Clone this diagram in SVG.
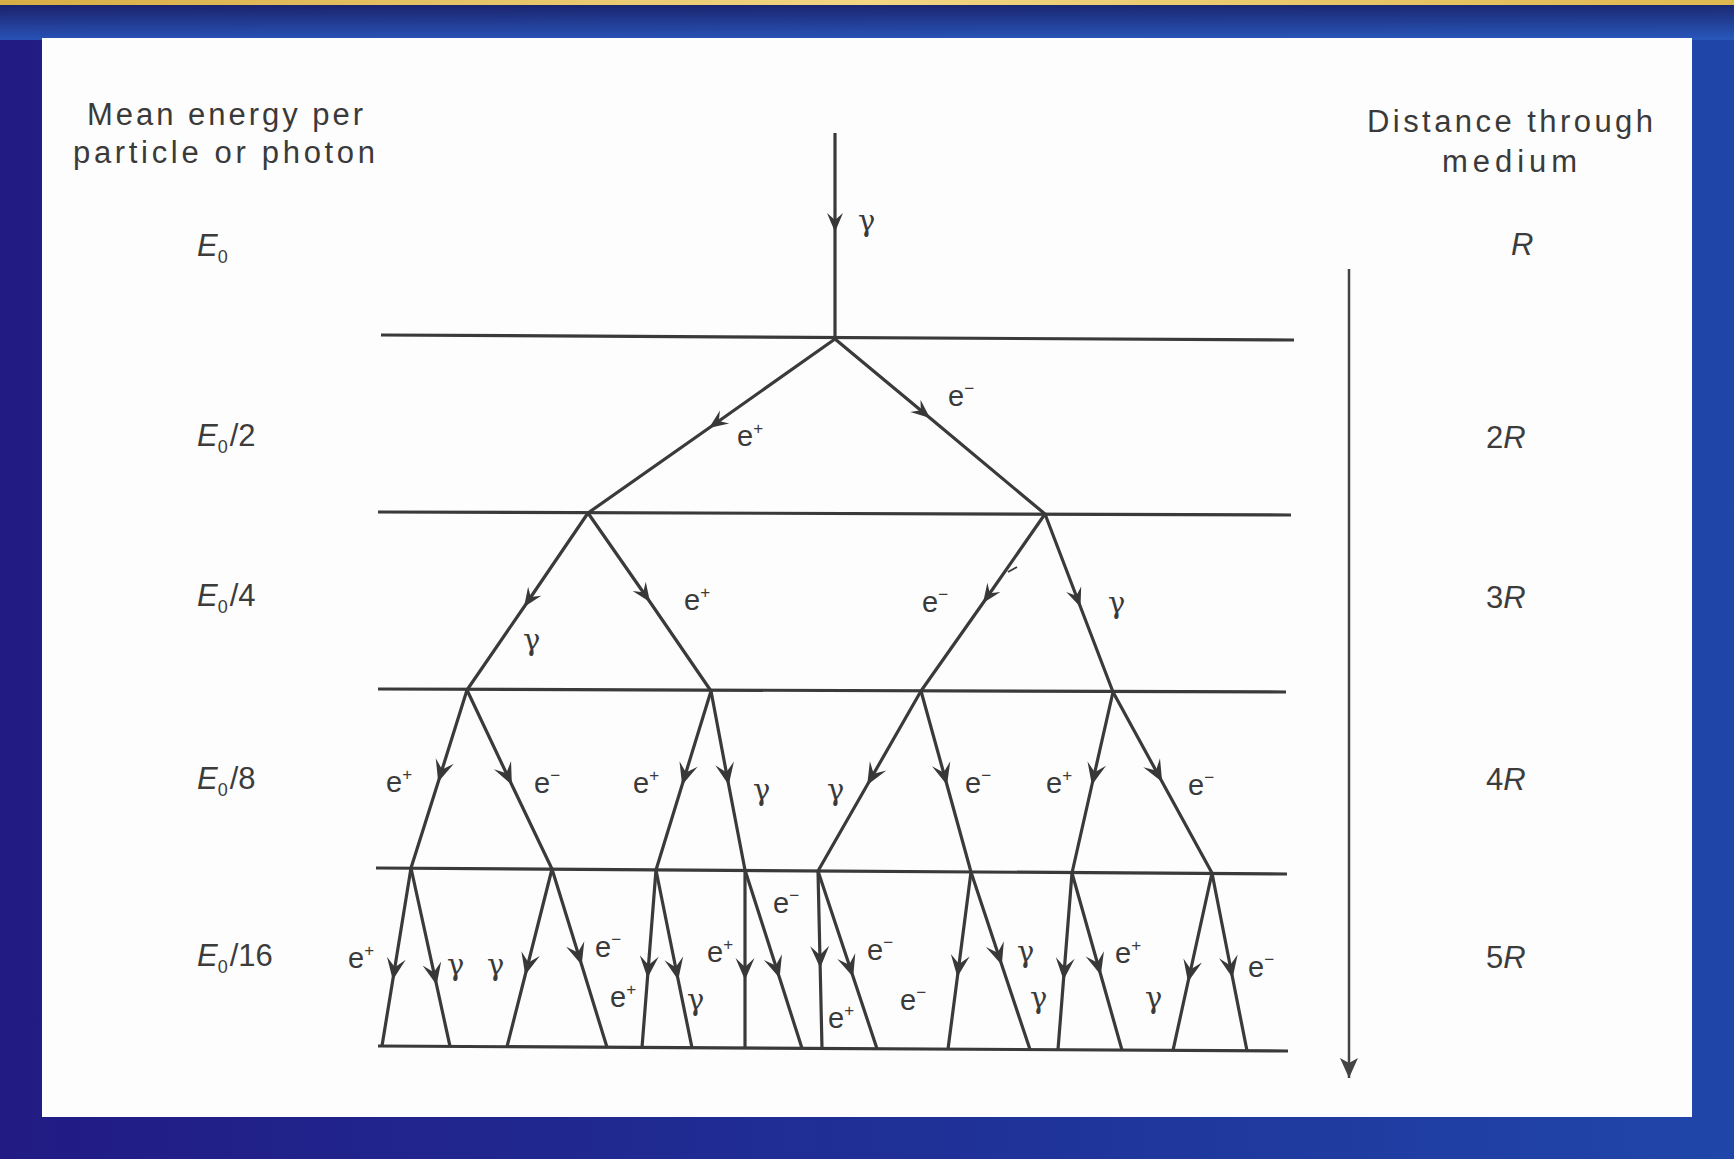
<svg xmlns="http://www.w3.org/2000/svg" width="1734" height="1159" viewBox="0 0 1734 1159">
<defs>
<linearGradient id="bg" x1="0" y1="0" x2="1" y2="0">
<stop offset="0" stop-color="#221b84"/>
<stop offset="0.5" stop-color="#1f2f96"/>
<stop offset="1" stop-color="#2046aa"/>
</linearGradient>
<linearGradient id="topband" x1="0" y1="0" x2="0" y2="1">
<stop offset="0" stop-color="#1a2266"/>
<stop offset="1" stop-color="#2a5cc0"/>
</linearGradient>
<linearGradient id="gold" x1="0" y1="0" x2="1" y2="0">
<stop offset="0" stop-color="#d7ad45"/>
<stop offset="0.5" stop-color="#f2d684"/>
<stop offset="1" stop-color="#e0b850"/>
</linearGradient>
<marker id="ah" viewBox="-22 -10 24 20" refX="0" refY="0" markerWidth="24" markerHeight="20" markerUnits="userSpaceOnUse" orient="auto">
<path d="M0,0 L-19,-8 L-12,0 L-19,8 Z" fill="#383838"/>
</marker>
<marker id="ahL" viewBox="-24 -12 26 24" refX="0" refY="0" markerWidth="26" markerHeight="24" markerUnits="userSpaceOnUse" orient="auto">
<path d="M0,0 L-22,-9.5 L-13,0 L-22,9.5 Z" fill="#383838"/>
</marker>
<marker id="axis" viewBox="-26 -10 28 20" refX="0" refY="0" markerWidth="28" markerHeight="20" markerUnits="userSpaceOnUse" orient="auto">
<path d="M0,0 L-20,-9 L-15,0 L-20,9 Z" fill="#444"/>
</marker>
<style>
.hd{font-family:"Liberation Sans",Arial,sans-serif;font-size:31px;fill:#3a3a3a}
.ax{font-family:"Liberation Sans",Arial,sans-serif;font-size:31px;fill:#3c3c3c}
.it{font-style:italic}
.sub{font-size:18px}
.e{font-family:"Liberation Sans",Arial,sans-serif;font-size:29px;fill:#3a3a3a}
.sup{font-size:17px}
.g{font-family:"DejaVu Serif","Liberation Serif",serif;font-size:29px;fill:#3a3a3a}
.hl{stroke:#3a3a3a;stroke-width:3.2;fill:none}
.cn{stroke:#3a3a3a;stroke-width:3.2;fill:none;stroke-linejoin:round}
.up{marker-mid:url(#ah)}
.lo{marker-mid:url(#ahL)}
</style>
</defs>

<g id="background">
<rect x="0" y="0" width="1734" height="1159" fill="url(#bg)"/>
<rect x="0" y="4" width="1734" height="36" fill="url(#topband)" opacity="0.85"/>
<rect x="0" y="0" width="1734" height="5" fill="url(#gold)"/>
<rect x="42" y="38" width="1650" height="1079" fill="#fdfdfd"/>
</g>

<g id="levels">
<line class="hl" x1="381" y1="335" x2="1294" y2="340"/>
<line class="hl" x1="378" y1="512" x2="1291" y2="515"/>
<line class="hl" x1="378" y1="689" x2="1286" y2="692"/>
<line class="hl" x1="376" y1="868" x2="1287" y2="874"/>
<line class="hl" x1="378" y1="1046" x2="1288" y2="1051"/>
</g>

<g id="connectors">
<path class="cn up" d="M835,133 L835,232 L835,339"/>
<path class="cn up" d="M835,339 L709,428 L588,513"/>
<path class="cn up" d="M835,339 L930,418 L1045,514"/>
<path class="cn up" d="M588,513 L524,607 L467,690"/>
<path class="cn up" d="M588,513 L650,602 L711,691"/>
<path class="cn up" d="M1045,514 L983,603 L921,691"/>
<path class="cn up" d="M1045,514 L1080.5,607 L1113,692"/>
<path class="cn lo" d="M467,690 L438.2,782 L411,868"/>
<path class="cn lo" d="M467,690 L511.9,785 L552,869"/>
<path class="cn lo" d="M711,691 L682.1,785 L656,870"/>
<path class="cn lo" d="M711,691 L728.7,785 L745,870"/>
<path class="cn lo" d="M921,691 L867.2,785 L818,871"/>
<path class="cn lo" d="M921,691 L947,785 L971,872"/>
<path class="cn lo" d="M1113,692 L1091.9,785 L1072,873"/>
<path class="cn lo" d="M1113,692 L1162.2,782 L1212,873"/>
<path class="cn lo" d="M411,868 L392.8,980 L382,1046"/>
<path class="cn lo" d="M411,868 L436.6,985 L450,1046.4"/>
<path class="cn lo" d="M552,869 L525.2,975 L507,1046.7"/>
<path class="cn lo" d="M552,869 L581.7,965 L607,1047.3"/>
<path class="cn lo" d="M656,870 L647.5,978 L642,1047.5"/>
<path class="cn lo" d="M656,870 L678.2,980 L692,1047.7"/>
<path class="cn lo" d="M745,870 L745,980 L745,1048"/>
<path class="cn lo" d="M745,870 L779.6,978 L802,1048.3"/>
<path class="cn lo" d="M818,871 L820.2,968 L822,1048.4"/>
<path class="cn lo" d="M818,871 L853.2,977 L877,1048.7"/>
<path class="cn lo" d="M971,872 L957.4,977 L948,1049.1"/>
<path class="cn lo" d="M971,872 L1001.8,965 L1030,1049.6"/>
<path class="cn lo" d="M1072,873 L1063.5,980 L1058,1049.7"/>
<path class="cn lo" d="M1072,873 L1100.8,975 L1122,1050.1"/>
<path class="cn lo" d="M1212,873 L1188,982 L1173,1050.4"/>
<path class="cn lo" d="M1212,873 L1232.6,978 L1247,1050.8"/>
<line x1="1008" y1="572" x2="1017" y2="567" stroke="#3a3a3a" stroke-width="2"/>
<path d="M1349,269 L1349,1078" stroke="#444" stroke-width="2.5" fill="none" marker-end="url(#axis)"/>
</g>

<g id="header-left">
<text class="hd" x="87" y="125" textLength="276" lengthAdjust="spacing">Mean energy per</text>
<text class="hd" x="73" y="163" textLength="302" lengthAdjust="spacing">particle or photon</text>
</g>
<g id="header-right">
<text class="hd" x="1367" y="132" textLength="286" lengthAdjust="spacing">Distance through</text>
<text class="hd" x="1442" y="172" textLength="135" lengthAdjust="spacing">medium</text>
</g>

<g id="energy-labels">
<text class="ax" x="197" y="256"><tspan class="it">E</tspan><tspan class="sub" dy="7">0</tspan></text>
<text class="ax" x="197" y="446"><tspan class="it">E</tspan><tspan class="sub" dy="7">0</tspan><tspan dy="-7" dx="2">/2</tspan></text>
<text class="ax" x="197" y="606"><tspan class="it">E</tspan><tspan class="sub" dy="7">0</tspan><tspan dy="-7" dx="2">/4</tspan></text>
<text class="ax" x="197" y="789"><tspan class="it">E</tspan><tspan class="sub" dy="7">0</tspan><tspan dy="-7" dx="2">/8</tspan></text>
<text class="ax" x="197" y="966"><tspan class="it">E</tspan><tspan class="sub" dy="7">0</tspan><tspan dy="-7" dx="2">/16</tspan></text>
</g>

<g id="distance-labels">
<text class="ax it" x="1511" y="255">R</text>
<text class="ax" x="1486" y="448">2<tspan class="it">R</tspan></text>
<text class="ax" x="1486" y="608">3<tspan class="it">R</tspan></text>
<text class="ax" x="1486" y="790">4<tspan class="it">R</tspan></text>
<text class="ax" x="1486" y="968">5<tspan class="it">R</tspan></text>
</g>

<g id="particle-labels">
<text class="g" x="858" y="231" font-size="33">γ</text>
<text class="e" x="737" y="446">e<tspan class="sup" dy="-12">+</tspan></text>
<text class="e" x="948" y="406">e<tspan class="sup" dy="-12">−</tspan></text>

<text class="g" x="523" y="650">γ</text>
<text class="e" x="684" y="610">e<tspan class="sup" dy="-12">+</tspan></text>
<text class="e" x="922" y="612">e<tspan class="sup" dy="-12">−</tspan></text>
<text class="g" x="1108" y="613">γ</text>

<text class="e" x="386" y="792">e<tspan class="sup" dy="-12">+</tspan></text>
<text class="e" x="534" y="793">e<tspan class="sup" dy="-12">−</tspan></text>
<text class="e" x="633" y="793">e<tspan class="sup" dy="-12">+</tspan></text>
<text class="g" x="753" y="800">γ</text>
<text class="g" x="827" y="800">γ</text>
<text class="e" x="965" y="793">e<tspan class="sup" dy="-12">−</tspan></text>
<text class="e" x="1046" y="793">e<tspan class="sup" dy="-12">+</tspan></text>
<text class="e" x="1188" y="795">e<tspan class="sup" dy="-12">−</tspan></text>

<text class="e" x="348" y="968">e<tspan class="sup" dy="-12">+</tspan></text>
<text class="g" x="447" y="975">γ</text>
<text class="g" x="487" y="975">γ</text>
<text class="e" x="595" y="957">e<tspan class="sup" dy="-12">−</tspan></text>
<text class="e" x="610" y="1007">e<tspan class="sup" dy="-12">+</tspan></text>
<text class="g" x="687" y="1010">γ</text>
<text class="e" x="707" y="962">e<tspan class="sup" dy="-12">+</tspan></text>
<text class="e" x="773" y="913">e<tspan class="sup" dy="-12">−</tspan></text>
<text class="e" x="867" y="960">e<tspan class="sup" dy="-12">−</tspan></text>
<text class="e" x="828" y="1028">e<tspan class="sup" dy="-12">+</tspan></text>
<text class="e" x="900" y="1010">e<tspan class="sup" dy="-12">−</tspan></text>
<text class="g" x="1017" y="962">γ</text>
<text class="g" x="1030" y="1008">γ</text>
<text class="e" x="1115" y="963">e<tspan class="sup" dy="-12">+</tspan></text>
<text class="g" x="1145" y="1008">γ</text>
<text class="e" x="1248" y="977">e<tspan class="sup" dy="-12">−</tspan></text>
</g>
</svg>
